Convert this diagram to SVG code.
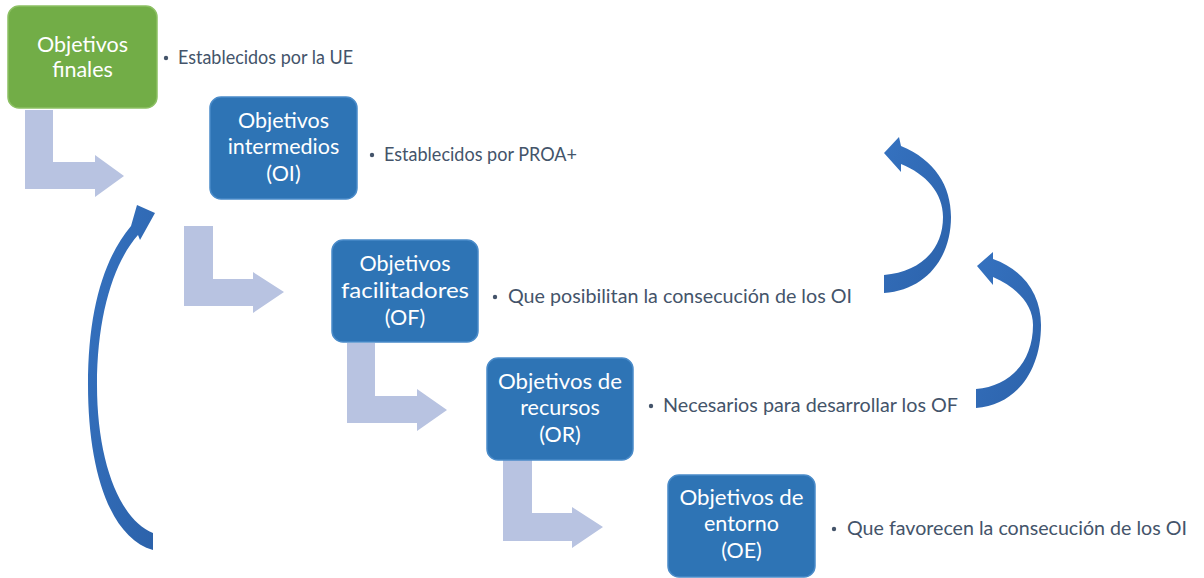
<svg xmlns="http://www.w3.org/2000/svg" width="1204" height="578" viewBox="0 0 1204 578">
<defs>
<style>
.box{fill:#2E74B5;stroke:#4A8BC9;stroke-width:1.5}
.green{fill:#72AD47;stroke:#8CC063;stroke-width:1.5}
.bt{font-family:Lato,"Liberation Sans",sans-serif;font-size:21.5px;fill:#ffffff;text-anchor:middle}
.lbl{font-family:Lato,"Liberation Sans",sans-serif;font-size:18.5px;fill:#44546A}
.dot{fill:#44546A}
.larrow{fill:#B8C3E1}
.carrow{fill:url(#cg)}
</style>
<linearGradient id="cg" x1="0" y1="0" x2="1" y2="1">
<stop offset="0" stop-color="#3572C0"/>
<stop offset="1" stop-color="#2C62AA"/>
</linearGradient>
</defs>
<rect width="1204" height="578" fill="#ffffff"/>
<g id="connectors">
<polygon class="larrow" points="25,110 53,110 53,162 95,162 95,155 124,176 95,197 95,189 25,189"/>
<polygon class="larrow" points="184,226 213,226 213,279 253,279 253,272 284,292 253,313 253,306 184,306"/>
<polygon class="larrow" points="347,343 375,343 375,396 417,396 417,389 447,410 417,431 417,423 347,423"/>
<polygon class="larrow" points="503,460 532,460 532,513 572,513 572,507 603,527 572,548 572,541 503,541"/>
<path class="carrow" d="M153,550 C110,538 88,470 88,385 C88,310 104,258 131,226 L137,205 L155,213 L140,240 L138,235 C114,262 97,315 97,385 C97,462 120,520 153,533 Z"/>
<path class="carrow" d="M884,293 C926,290 951,258 951,217 C951,186 935,160 901,146 L899,137 L884,153 L901,172 L901,164 C926,174 943,193 943,217 C943,250 920,272 884,275 Z"/>
<path class="carrow" d="M976,408 C1017,405 1041,370 1041,325 C1041,295 1024,270 993,259 L993,252 L977,266 L993,285 L993,277 C1018,288 1033,305 1033,325 C1033,362 1010,386 976,389 Z"/>
</g>
<g id="node-finales">
<rect class="green" x="8" y="6" width="149" height="102" rx="11"/>
<text class="bt" x="82.5" y="52">Objetivos</text>
<text class="bt" x="82.5" y="77">finales</text>
<circle class="dot" cx="166" cy="58" r="2.2"/>
<text class="lbl" x="178" y="64" textLength="175" lengthAdjust="spacingAndGlyphs">Establecidos por la UE</text>
</g>
<g id="node-intermedios">
<rect class="box" x="210" y="97" width="147" height="102" rx="11"/>
<text class="bt" x="283.5" y="128">Objetivos</text>
<text class="bt" x="283.5" y="154">intermedios</text>
<text class="bt" x="283.5" y="181">(OI)</text>
<circle class="dot" cx="372" cy="155" r="2.2"/>
<text class="lbl" x="384" y="161" textLength="193" lengthAdjust="spacingAndGlyphs">Establecidos por PROA+</text>
</g>
<g id="node-facilitadores">
<rect class="box" x="332" y="240" width="146" height="102" rx="11"/>
<text class="bt" x="405" y="271">Objetivos</text>
<text class="bt" x="405" y="298" textLength="128" lengthAdjust="spacingAndGlyphs">facilitadores</text>
<text class="bt" x="405" y="325">(OF)</text>
<circle class="dot" cx="495" cy="297" r="2.2"/>
<text class="lbl" x="508" y="303" textLength="344" lengthAdjust="spacingAndGlyphs">Que posibilitan la consecución de los OI</text>
</g>
<g id="node-recursos">
<rect class="box" x="487" y="358" width="146" height="102" rx="11"/>
<text class="bt" x="560" y="389" textLength="124" lengthAdjust="spacingAndGlyphs">Objetivos de</text>
<text class="bt" x="560" y="415">recursos</text>
<text class="bt" x="560" y="442">(OR)</text>
<circle class="dot" cx="651" cy="406" r="2.2"/>
<text class="lbl" x="663" y="412" textLength="295" lengthAdjust="spacingAndGlyphs">Necesarios para desarrollar los OF</text>
</g>
<g id="node-entorno">
<rect class="box" x="668" y="475" width="147" height="102" rx="11"/>
<text class="bt" x="741.5" y="505" textLength="124" lengthAdjust="spacingAndGlyphs">Objetivos de</text>
<text class="bt" x="741.5" y="531">entorno</text>
<text class="bt" x="741.5" y="558">(OE)</text>
<circle class="dot" cx="834" cy="529" r="2.2"/>
<text class="lbl" x="847" y="535" textLength="340" lengthAdjust="spacingAndGlyphs">Que favorecen la consecución de los OI</text>
</g>
</svg>
